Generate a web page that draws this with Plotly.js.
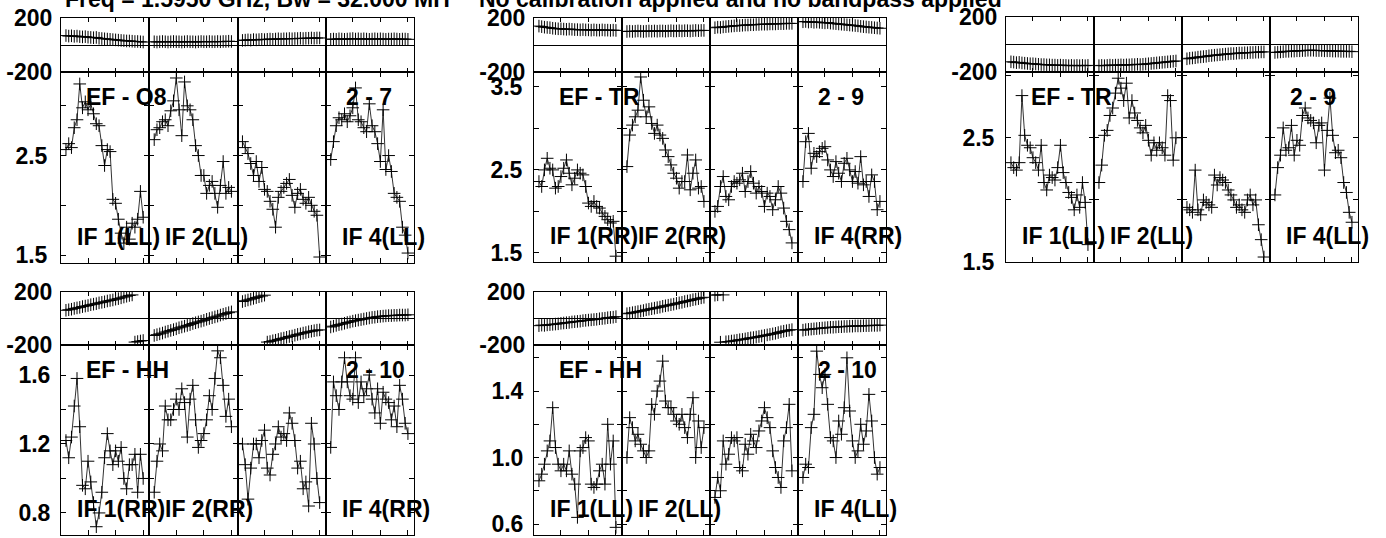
<!DOCTYPE html>
<html>
<head>
<meta charset="utf-8">
<script src="https://cdn.plot.ly/plotly-3.0.1.min.js"></script>
<style>html,body{margin:0;padding:0;background:#fff}#plot{width:1386px;height:538px}</style>
</head>
<body>
<div id="plot"></div>
<script>
// ---------------- DATA ----------------
const channels = [2,3,4,5,6,7,8,9,10,11,12,13,14,15,16,17,18,19,20,21,22,23,24,25,26,27,28,29,30];
const channelTicks = [10, 20, 30];
const ifLabels = ['IF 1', 'IF 2', '', 'IF 4'];
const titleLeft = 'Freq = 1.5950 GHz, Bw = 32.000 MH';
const titleRight = 'No calibration applied and no bandpass applied';
const baselineNames = ['EF - O8', 'EF - TR', 'EF - TR', 'EF - HH', 'EF - HH'];
const baselineNumbers = ['2 - 7', '2 - 9', '2 - 9', '2 - 10', '2 - 10'];
const polarizations = ['LL', 'RR', 'LL', 'RR', 'LL'];
const phaseTicks = [-200, 200];
const phaseTickText = ['-200', '200'];

// amplitude per panel, per IF
const amp1 = [
  [2.56,2.62,2.58,2.78,2.86,3.22,2.98,3.04,2.96,3.02,2.92,2.82,2.80,2.60,2.40,2.56,2.54,2.06,2.02,1.86,1.72,1.62,1.78,1.66,1.82,1.78,1.86,2.14,1.88],
  [2.66,2.76,2.78,2.84,2.86,2.80,2.95,3.05,3.28,2.96,2.70,3.24,3.00,2.96,2.86,2.60,2.50,2.30,2.30,2.12,2.20,2.24,2.12,1.98,2.20,2.44,2.12,2.18,2.14],
  [2.64,2.58,2.52,2.42,2.30,2.44,2.24,2.38,2.16,2.14,2.04,1.96,1.78,2.08,2.14,2.18,2.22,2.26,2.10,1.98,2.12,2.16,2.06,2.02,2.08,2.00,1.94,1.90,1.48],
  [2.46,2.64,2.80,2.88,2.86,2.92,2.84,2.90,2.98,3.18,2.86,2.84,2.78,2.74,3.02,2.80,2.74,2.62,2.44,2.96,2.36,2.50,2.34,2.12,2.08,2.04,1.78,1.70,1.52]
];
const amp2 = [
  [2.36,2.30,2.50,2.64,2.52,2.50,2.28,2.30,2.42,2.52,2.62,2.46,2.32,2.40,2.50,2.46,2.44,2.30,2.10,2.06,2.12,2.06,2.04,1.98,1.94,1.90,1.86,1.88,1.46],
  [2.54,2.92,3.04,3.14,3.22,3.62,3.34,3.14,3.26,3.06,2.94,3.04,2.92,2.88,2.74,2.66,2.56,2.46,2.40,2.28,2.36,2.36,2.68,2.26,2.46,2.62,2.28,2.30,2.12],
  [2.00,2.06,2.30,2.42,2.18,2.14,2.30,2.36,2.34,2.38,2.46,2.24,2.36,2.48,2.34,2.22,2.30,2.24,2.06,2.22,2.18,2.02,2.14,2.30,2.22,2.04,1.88,1.78,1.62],
  [2.36,2.84,2.94,2.52,2.70,2.66,2.72,2.76,2.78,2.62,2.50,2.42,2.60,2.46,2.36,2.58,2.64,2.50,2.36,2.48,2.34,2.66,2.32,2.36,2.18,2.44,2.36,2.02,2.12]
];
const amp3 = [
  [2.30,2.26,2.24,2.30,2.84,2.52,2.44,2.42,2.34,2.30,2.24,2.44,2.14,2.08,2.20,2.18,2.16,2.26,2.44,2.22,2.14,2.06,2.02,1.92,2.04,1.94,2.14,1.98,1.64],
  [2.14,2.28,2.52,2.56,2.68,2.74,2.86,2.98,2.90,2.80,2.94,2.66,2.80,2.70,2.64,2.58,2.54,2.60,2.48,2.36,2.46,2.40,2.46,2.42,2.36,2.84,2.80,2.32,2.50],
  [1.94,1.92,1.90,2.24,1.92,1.88,2.00,1.98,1.96,1.94,2.20,2.12,2.18,2.16,2.14,2.08,2.04,2.00,1.94,1.96,1.92,1.90,2.00,2.04,1.96,2.00,1.80,1.68,1.54],
  [2.04,2.26,2.36,2.58,2.40,2.42,2.60,2.36,2.48,2.44,2.68,2.74,2.66,2.64,2.62,2.46,2.60,2.62,2.24,2.56,2.82,2.52,2.38,2.40,2.34,2.14,2.06,1.90,1.82]
];
const amp4 = [
  [1.22,1.12,1.24,1.42,1.58,1.30,0.96,0.94,1.10,0.98,0.86,0.72,0.80,0.92,1.12,1.26,1.16,1.08,1.16,1.10,1.18,1.00,0.94,1.08,1.08,1.14,0.92,1.14,1.00],
  [0.92,1.10,1.20,1.16,1.42,1.34,1.34,1.40,1.46,1.40,1.52,1.44,1.24,1.46,1.54,1.34,1.18,1.22,1.26,1.34,1.48,1.40,1.58,1.74,1.70,1.54,1.36,1.46,1.30],
  [1.20,1.08,0.88,1.06,1.20,1.20,1.12,1.22,1.28,1.06,1.02,1.14,1.20,1.30,1.24,1.26,1.22,1.38,1.32,1.22,1.06,1.10,0.94,0.98,0.84,1.32,1.20,1.00,0.86],
  [1.18,1.56,1.48,1.40,1.56,1.70,1.56,1.48,1.46,1.70,1.44,1.56,1.48,1.52,1.60,1.46,1.38,1.52,1.32,1.50,1.46,1.44,1.34,1.42,1.30,1.54,1.46,1.32,1.26]
];
const amp5 = [
  [0.86,0.90,0.96,1.04,1.10,1.30,1.06,0.96,0.92,0.96,0.92,1.04,0.90,0.84,0.64,1.04,1.06,1.12,1.10,0.84,0.82,0.84,0.92,0.96,0.84,1.20,0.96,1.10,0.58],
  [1.00,1.24,1.18,1.10,1.14,1.08,1.04,1.00,1.04,1.32,1.26,1.40,1.46,1.58,1.34,1.30,1.30,1.26,1.22,1.20,1.26,1.18,1.12,1.26,1.36,1.00,1.22,1.06,1.18],
  [0.76,0.88,0.80,1.10,0.96,1.02,1.12,1.10,1.12,0.94,0.92,1.08,1.02,1.14,1.10,1.06,1.16,1.22,1.30,1.24,1.18,1.04,0.94,0.88,0.82,1.10,1.18,1.32,0.92],
  [0.88,0.96,0.94,1.18,1.26,1.64,1.50,1.42,1.50,1.32,1.12,1.10,1.00,1.22,1.14,1.30,1.60,1.28,1.10,1.00,1.04,1.20,1.08,1.16,1.38,1.22,1.00,0.90,0.94]
];

// phase (degrees) per panel, per IF
const phase1 = [
  [70,66,68,64,66,62,60,62,58,56,54,56,50,48,46,44,42,40,38,36,34,32,30,30,28,26,26,24,22],
  [24,22,24,26,24,22,24,26,24,24,22,24,26,24,24,22,24,26,24,24,26,24,24,26,24,26,26,28,26],
  [34,36,38,36,40,38,40,42,40,42,44,42,44,46,44,46,46,48,46,48,48,50,48,50,50,52,50,52,52],
  [42,44,42,46,44,42,44,46,48,44,46,44,46,44,42,44,46,44,46,44,42,44,44,46,44,42,44,44,42]
];
const phase2 = [
  [140,136,132,130,128,124,122,120,120,118,116,118,116,114,114,112,114,112,112,110,112,110,110,112,110,110,108,110,108],
  [100,102,100,102,104,102,100,102,104,102,104,102,104,104,102,104,106,104,104,106,104,106,106,104,106,108,106,108,108],
  [128,132,130,134,136,138,140,142,144,144,146,148,148,150,150,152,152,154,154,154,156,156,156,158,158,158,160,160,160],
  [172,174,170,172,168,170,168,166,164,166,162,160,158,156,154,152,150,148,146,144,142,138,136,134,132,130,128,126,124]
];
const phase3 = [
  [-126,-128,-132,-130,-134,-136,-138,-140,-140,-142,-144,-146,-146,-148,-148,-150,-150,-152,-150,-152,-152,-154,-152,-154,-152,-154,-152,-154,-152],
  [-154,-152,-154,-152,-150,-152,-150,-150,-148,-150,-148,-148,-146,-146,-144,-146,-144,-142,-140,-138,-136,-134,-132,-130,-128,-126,-124,-122,-120],
  [-104,-100,-98,-96,-92,-90,-88,-86,-82,-80,-78,-76,-74,-72,-70,-68,-66,-66,-64,-62,-62,-60,-60,-58,-58,-56,-56,-54,-54],
  [-58,-56,-54,-52,-50,-50,-48,-48,-46,-46,-44,-44,-42,-42,-42,-44,-44,-44,-46,-46,-46,-48,-48,-48,-50,-50,-50,-50,-52]
];
const phase4 = [
  [62,66,70,76,80,84,90,94,98,104,108,112,118,122,126,132,136,140,146,150,156,162,168,174,178,-178,-174,-170,-166],
  [-128,-122,-116,-110,-102,-96,-90,-84,-78,-70,-64,-58,-52,-46,-38,-32,-26,-20,-14,-6,0,6,12,18,26,32,38,44,50],
  [128,134,140,146,152,158,164,170,176,-178,-174,-168,-164,-158,-152,-148,-142,-136,-132,-126,-120,-116,-110,-106,-100,-96,-92,-88,-86],
  [-64,-58,-52,-46,-42,-36,-30,-26,-20,-16,-12,-8,-4,0,4,8,10,14,16,18,20,22,22,24,24,26,26,26,28]
];
const phase5 = [
  [-54,-50,-52,-48,-46,-44,-42,-40,-36,-34,-32,-30,-26,-24,-22,-20,-16,-14,-12,-10,-8,-6,-2,0,2,6,8,10,14],
  [36,40,44,48,52,56,60,66,70,74,78,82,86,92,96,100,104,108,114,118,122,128,132,136,142,146,150,156,160],
  [176,179,-179,178,-176,-174,-170,-168,-164,-160,-158,-154,-150,-146,-144,-140,-136,-132,-128,-124,-120,-116,-112,-106,-100,-96,-92,-88,-84],
  [-88,-84,-82,-80,-78,-76,-74,-72,-70,-68,-66,-66,-64,-62,-62,-60,-60,-58,-58,-56,-56,-56,-54,-54,-54,-52,-52,-52,-50]
];

// amplitude axis ticks per panel
const ampTicks1 = [1.5, 2.0, 2.5, 3.0];           const ampTickText1 = ['1.5', '', '2.5', ''];
const ampTicks2 = [1.5, 2.0, 2.5, 3.0, 3.5];      const ampTickText2 = ['1.5', '', '2.5', '', '3.5'];
const ampTicks3 = [1.5, 2.0, 2.5, 3.0];           const ampTickText3 = ['1.5', '', '2.5', ''];
const ampTicks4 = [0.8, 1.0, 1.2, 1.4, 1.6];      const ampTickText4 = ['0.8', '', '1.2', '', '1.6'];
const ampTicks5 = [0.6, 0.8, 1.0, 1.2, 1.4, 1.6]; const ampTickText5 = ['0.6', '', '1.0', '', '1.4', ''];

// ---------------- LAYOUT (pixel frames) ----------------
const W = 1386, H = 538;
const fx = p => p / W;
const fy = p => 1 - p / H;
const FONT = 'Liberation Sans, Arial, Helvetica, sans-serif';

const frames = [
  {left: 61,  right: 414,  pTop: 18,  pBot: 72,  aBot: 263, yr: [1.42, 3.34],  gap: 8},
  {left: 534, right: 886,  pTop: 18,  pBot: 72,  aBot: 262, yr: [1.39, 3.68],  gap: 6},
  {left: 1006, right: 1358, pTop: 17, pBot: 72,  aBot: 262, yr: [1.5, 3.03],   gap: 6},
  {left: 61,  right: 414,  pTop: 292, pBot: 345, aBot: 535, yr: [0.672, 1.774], gap: 5},
  {left: 534, right: 886,  pTop: 292, pBot: 345, aBot: 535, yr: [0.534, 1.677], gap: 5}
];
const ampData = [amp1, amp2, amp3, amp4, amp5];
const phaseData = [phase1, phase2, phase3, phase4, phase5];
const ampTickVals = [ampTicks1, ampTicks2, ampTicks3, ampTicks4, ampTicks5];
const ampTickTexts = [ampTickText1, ampTickText2, ampTickText3, ampTickText4, ampTickText5];

const axBase = {
  showline: true, linecolor: '#000', linewidth: 1, mirror: 'ticks',
  ticks: 'inside', ticklen: 5, tickcolor: '#000', tickwidth: 1,
  showgrid: false, zeroline: false, fixedrange: true
};
const tickFont = {family: FONT, size: 23, color: '#000', weight: 'bold'};

const traces = [];
const layout = {
  width: W, height: H,
  margin: {l: 0, r: 0, t: 0, b: 0},
  paper_bgcolor: '#fff', plot_bgcolor: 'rgba(0,0,0,0)',
  showlegend: false,
  annotations: []
};

const marker = {symbol: 'cross-thin-open', size: 9, color: '#000', line: {width: 1, color: '#000'}};
const lineStyle = {color: '#333', width: 1};

// break a phase series where it wraps around +-180
function wrapBreak(xs, ys) {
  const ox = [], oy = [];
  for (let i = 0; i < ys.length; i++) {
    if (i > 0 && Math.abs(ys[i] - ys[i - 1]) > 180) { ox.push((xs[i] + xs[i - 1]) / 2); oy.push(null); }
    ox.push(xs[i]); oy.push(ys[i]);
  }
  return {x: ox, y: oy};
}

frames.forEach((f, p) => {
  const w = (f.right - f.left) / 4;
  for (let k = 0; k < 4; k++) {
    const ia = p * 4 + k + 1;        // amplitude subplot
    const ip = 20 + p * 4 + k + 1;   // phase subplot
    const xd = [fx(f.left + k * w), fx(f.left + (k + 1) * w)];
    const xcfg = Object.assign({}, axBase, {domain: xd, range: [0.2, 32.2], tickvals: channelTicks, showticklabels: false});

    layout['xaxis' + ia] = Object.assign({}, xcfg, {anchor: 'y' + ia});
    layout['yaxis' + ia] = Object.assign({}, axBase, {
      anchor: 'x' + ia, domain: [fy(f.aBot), fy(f.pBot)], range: f.yr,
      tickvals: ampTickVals[p], ticktext: ampTickTexts[p],
      showticklabels: k === 0, tickfont: tickFont, ticklabelstandoff: f.gap
    });
    layout['xaxis' + ip] = Object.assign({}, xcfg, {anchor: 'y' + ip, ticklen: 4});
    layout['yaxis' + ip] = Object.assign({}, axBase, {
      anchor: 'x' + ip, domain: [fy(f.pBot), fy(f.pTop)], range: [-200, 200],
      tickvals: phaseTicks, ticktext: phaseTickText, ticks: '',
      showticklabels: k === 0, tickfont: tickFont, ticklabelstandoff: 3,
      zeroline: true, zerolinecolor: '#000', zerolinewidth: 1
    });

    const amps = ampData[p][k];
    const chA = channels.slice(0, amps.length);
    traces.push({type: 'scatter', mode: 'lines+markers', x: chA, y: amps,
      xaxis: 'x' + ia, yaxis: 'y' + ia, marker: marker, line: lineStyle, hoverinfo: 'none'});

    const ph = phaseData[p][k];
    const wb = wrapBreak(channels.slice(0, ph.length), ph);
    traces.push({type: 'scatter', mode: 'lines+markers', x: wb.x, y: wb.y, connectgaps: false,
      xaxis: 'x' + ip, yaxis: 'y' + ip, marker: marker, line: lineStyle, hoverinfo: 'none'});

    if (ifLabels[k]) {
      layout.annotations.push({xref: 'paper', yref: 'paper', x: fx(f.left + k * w + 14), y: fy(f.aBot - 26),
        xanchor: 'left', yanchor: 'middle', showarrow: false,
        text: ifLabels[k] + '(' + polarizations[p] + ')', font: tickFont});
    }
  }
  layout.annotations.push({xref: 'paper', yref: 'paper', x: fx(f.left + 23), y: fy(f.pBot + 25),
    xanchor: 'left', yanchor: 'middle', showarrow: false, text: baselineNames[p], font: tickFont});
  layout.annotations.push({xref: 'paper', yref: 'paper', x: fx(f.left + 3 * w + 18), y: fy(f.pBot + 25),
    xanchor: 'left', yanchor: 'middle', showarrow: false, text: baselineNumbers[p], font: tickFont});
});

layout.annotations.push({xref: 'paper', yref: 'paper', x: fx(63), y: fy(-1), xanchor: 'left', yanchor: 'middle',
  showarrow: false, text: titleLeft, font: tickFont});
layout.annotations.push({xref: 'paper', yref: 'paper', x: fx(477), y: fy(-1), xanchor: 'left', yanchor: 'middle',
  showarrow: false, text: titleRight, font: tickFont});

Plotly.newPlot('plot', traces, layout, {staticPlot: true, displayModeBar: false});
</script>
</body>
</html>
